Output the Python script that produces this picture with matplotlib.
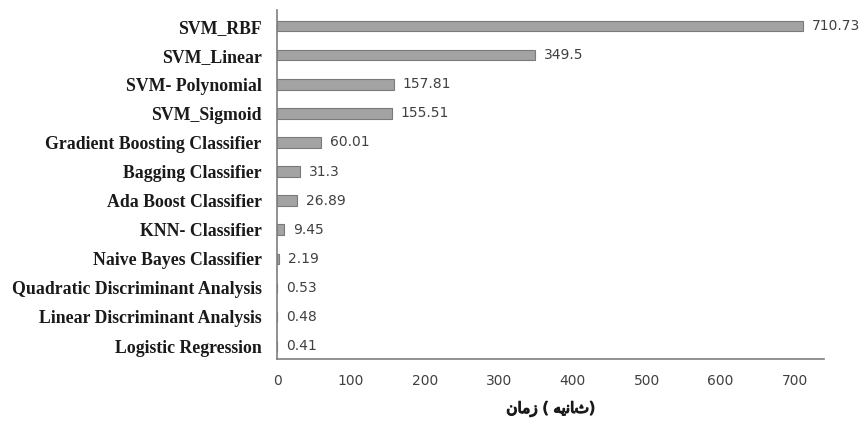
import matplotlib

matplotlib.use("Agg")

import matplotlib.patheffects as pe
import matplotlib.pyplot as plt

# Training time per classifier, bottom-to-top as drawn.
models = [
    "Logistic Regression",
    "Linear Discriminant Analysis",
    "Quadratic Discriminant Analysis",
    "Naive Bayes Classifier",
    "KNN- Classifier",
    "Ada Boost Classifier",
    "Bagging Classifier",
    "Gradient Boosting Classifier",
    "SVM_Sigmoid",
    "SVM- Polynomial",
    "SVM_Linear",
    "SVM_RBF",
]
seconds = [0.41, 0.48, 0.53, 2.19, 9.45, 26.89, 31.3, 60.01, 155.51, 157.81, 349.5, 710.73]
value_labels = ["0.41", "0.48", "0.53", "2.19", "9.45", "26.89", "31.3", "60.01",
                "155.51", "157.81", "349.5", "710.73"]
x_ticks = [0, 100, 200, 300, 400, 500, 600, 700]

# "زمان ( ثانیه)" -- matplotlib does no Arabic shaping, so the joined
# presentation forms are given in visual (left-to-right) order.
x_label = "\ufee5\ufe8e\ufee3\ufeaf ( \ufeea\ufbfe\ufee7\ufe8e\ufe99)"

_BAR = "#a3a3a3"
_BAR_EDGE = "#7a7a7a"
_INK = "#404040"
_AXIS = "#7f7f7f"

fig = plt.figure(figsize=(8.63, 4.23), dpi=100)
ax = fig.add_axes([0.321, 0.151, 0.634, 0.825])

positions = range(len(models))
ax.barh(positions, seconds, height=0.36, color=_BAR, edgecolor=_BAR_EDGE, linewidth=0.8)

for pos, value, label in zip(positions, seconds, value_labels):
    ax.text(value + 12, pos, label, va="center", ha="left",
            fontsize=10, color=_INK, family=["DejaVu Sans"])

ax.set_xlim(0, 740)
ax.set_ylim(-0.45, len(models) - 0.45)
ax.set_xticks(x_ticks)
ax.set_xticklabels([str(t) for t in x_ticks], fontsize=10, color=_INK)
ax.set_yticks(list(positions))
ax.set_yticklabels(models, fontsize=12.8, fontweight="bold", color="#1a1a1a",
                   family=["Liberation Serif"])
ax.tick_params(axis="both", length=0)
ax.tick_params(axis="x", pad=11)
ax.tick_params(axis="y", pad=11)

for name, spine in ax.spines.items():
    spine.set_visible(name in ("left", "bottom"))
    spine.set_color(_AXIS)
    spine.set_linewidth(1.2)

# DejaVu Sans Bold has no Arabic presentation forms, so fake the weight
# with a thin stroke in the text colour.
xlab = ax.set_xlabel(x_label, fontsize=11, color="#1a1a1a",
                     family=["DejaVu Sans"], labelpad=9)
xlab.set_path_effects([pe.withStroke(linewidth=0.9, foreground="#1a1a1a")])

fig.savefig("out.png", dpi=100, facecolor="white")
